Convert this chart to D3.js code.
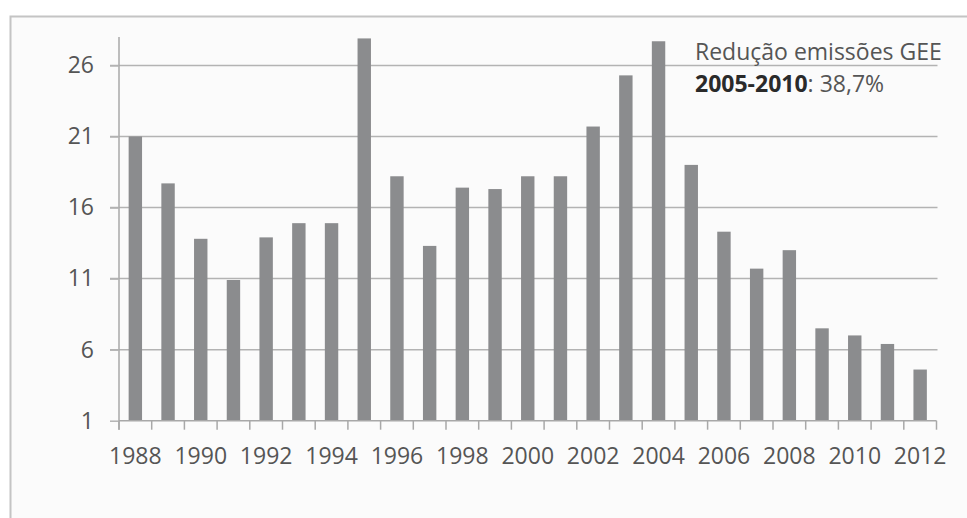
<!DOCTYPE html>
<html>
<head>
<meta charset="utf-8">
<script src="https://cdn.jsdelivr.net/npm/d3@7"></script>
<style>
  html, body { margin: 0; padding: 0; background: #ffffff; }
  svg { display: block; }
  text { font-family: "Open Sans", Lato, sans-serif; }
</style>
</head>
<body>
<svg id="chart" width="967" height="518"></svg>
<script>
const years = ["1988","1989","1990","1991","1992","1993","1994","1995","1996","1997","1998","1999","2000","2001","2002","2003","2004","2005","2006","2007","2008","2009","2010","2011","2012"];
const values = [21.0,17.7,13.8,10.9,13.9,14.9,14.9,27.9,18.2,13.3,17.4,17.3,18.2,18.2,21.7,25.3,27.7,19.0,14.3,11.7,13.0,7.5,7.0,6.4,4.6];
const yTicks = [1, 6, 11, 16, 21, 26];
const xLabels = ["1988","1990","1992","1994","1996","1998","2000","2002","2004","2006","2008","2010","2012"];
const noteLine1 = "Redução emissões GEE";
const noteBold = "2005-2010";
const noteRest = ": 38,7%";

(function () {
const FONT = "'Open Sans', Lato, sans-serif";
const svg = d3.select("#chart");

// outer frame
svg.append("rect")
  .attr("x", 10.5).attr("y", 16.5)
  .attr("width", 980).attr("height", 520)
  .attr("fill", "#fbfbfb")
  .attr("stroke", "#c4c4c4").attr("stroke-width", 2);

const pLeft = 119, pRight = 936.5, pTop = 37, pBottom = 420.7;

const y = d3.scaleLinear().domain([1, 28]).range([pBottom, pTop]);
const xSlot = d3.scaleBand().domain(years).range([pLeft, pRight]).padding(0);
const xBar = d3.scaleBand().domain(years).range([pLeft, pRight]).paddingInner(0.59).paddingOuter(0.295);

// gridlines
svg.append("g").selectAll("line").data(yTicks.filter(t => t !== 1)).join("line")
  .attr("x1", pLeft - 9).attr("x2", pRight + 1)
  .attr("y1", d => y(d)).attr("y2", d => y(d))
  .attr("stroke", "#b3b3b3").attr("stroke-width", 1.5);

// y axis
const yAxis = svg.append("g").attr("transform", `translate(${pLeft},0)`)
  .call(d3.axisLeft(y).tickValues(yTicks).tickSize(9).tickPadding(16).tickFormat(d3.format("d")));
yAxis.attr("font-family", FONT).attr("font-size", 23);
yAxis.select(".domain").attr("stroke", "#a8a8a8").attr("stroke-width", 1.5)
  .attr("d", `M0,${pTop}V${pBottom + 9}`);
yAxis.selectAll(".tick line").attr("stroke", "#b3b3b3").attr("stroke-width", 1.5);
yAxis.selectAll(".tick text").attr("fill", "#555");

// bars
svg.append("g").selectAll("rect").data(values).join("rect")
  .attr("x", (d, i) => xBar(years[i]))
  .attr("width", xBar.bandwidth())
  .attr("y", d => y(d))
  .attr("height", d => y(1) - y(d))
  .attr("fill", "#8b8c8e");

// x axis
const xAxisG = svg.append("g").attr("transform", `translate(0,${pBottom})`);
xAxisG.append("line").attr("x1", pLeft).attr("x2", pRight)
  .attr("stroke", "#a8a8a8").attr("stroke-width", 1.5);
const boundaries = years.map(yr => xSlot(yr)).concat([pRight]);
xAxisG.selectAll("line.tk").data(boundaries).join("line").attr("class", "tk")
  .attr("x1", d => d).attr("x2", d => d).attr("y1", 0).attr("y2", 9)
  .attr("stroke", "#a8a8a8").attr("stroke-width", 1.5);
xAxisG.selectAll("text").data(xLabels).join("text")
  .attr("x", d => xSlot(d) + xSlot.bandwidth() / 2)
  .attr("y", 43)
  .attr("text-anchor", "middle")
  .attr("fill", "#555").attr("font-size", 23)
  .text(d => d);

// annotation
const note = svg.append("g");
note.append("text").attr("x", 695).attr("y", 60)
  .attr("fill", "#555").attr("font-size", 23).text(noteLine1);
const t2 = note.append("text").attr("x", 695).attr("y", 92)
  .attr("font-size", 23);
t2.append("tspan").attr("font-weight", "bold").attr("fill", "#2a2a2a").text(noteBold);
t2.append("tspan").attr("fill", "#555").text(noteRest);
})();
</script>
</body>
</html>
